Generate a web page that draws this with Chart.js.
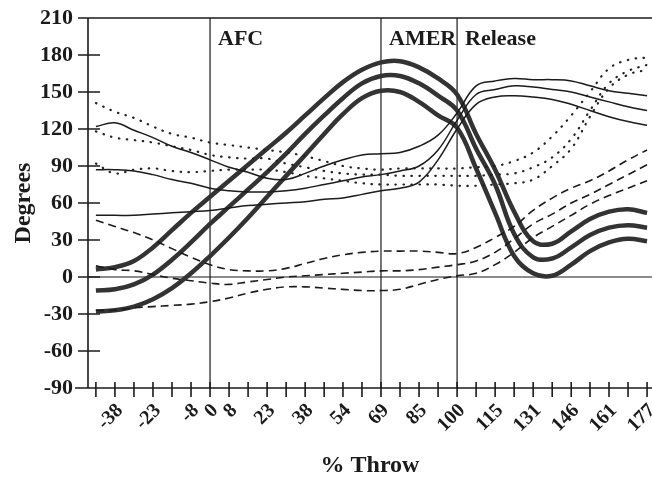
<!DOCTYPE html>
<html>
<head>
<meta charset="utf-8">
<title>% Throw</title>
<script src="https://cdn.jsdelivr.net/npm/chart.js@4.4.1/dist/chart.umd.min.js"></script>
<style>
  html, body { margin: 0; padding: 0; background: #fff; }
  canvas { display: block; }
</style>
</head>
<body>
<canvas id="throw-chart" width="652" height="480"></canvas>
<script>
'use strict';

/*===== Axe x : % du lancer =====*/
const throwPct = [-46.2, -38.5, -30.8, -23.1, -15.4, -7.7, 0, 7.7, 15.4, 23.1, 30.8, 38.5, 46.2, 53.8, 61.5,
                  69.2, 76.9, 84.6, 92.3, 100, 107.7, 115.4, 123.1, 130.8, 138.5, 146.2, 153.8, 161.5, 169.2, 176.9];
const xTickLabels = ['', '-38', '', '-23', '', '-8', '0', '8', '', '23', '', '38', '', '54', '',
                     '69', '', '85', '', '100', '', '115', '', '131', '', '146', '', '161', '', '177'];
const yTickValues = [-90, -60, -30, 0, 30, 60, 90, 120, 150, 180, 210];

/*===== Evénements =====*/
const eventNames = ['AFC', 'AMER', 'Release'];
const eventPct = [0, 69.2, 100];

/*===== Courbes épaisses =====*/
const thick1 = [6, 8, 13, 24, 38, 52, 65, 78, 91, 104, 117, 131, 145, 158, 168, 174, 175, 170, 161, 148, 116, 87, 53, 29, 27, 37, 47, 53, 55, 52];
const thick2 = [-11, -10, -6, 2, 14, 28, 43, 57, 71, 85, 100, 116, 131, 145, 157, 163, 163, 157, 147, 135, 104, 75, 35, 16, 15, 24, 34, 40, 42, 40];
const thick3 = [-28, -27, -24, -18, -9, 3, 17, 32, 48, 65, 82, 99, 116, 132, 145, 151, 150, 142, 131, 121, 88, 52, 17, 3, 1, 10, 21, 28, 31, 29];

/*===== Courbes fines =====*/
const thin1 = [122, 125, 119, 113, 106, 101, 95, 89, 85, 80, 79, 84, 90, 95, 99, 100, 101, 106, 115, 133, 155, 159, 161, 160, 160, 159, 155, 151, 149, 147];
const thin2 = [87, 87, 86, 83, 79, 76, 72, 70, 69, 69, 70, 72, 75, 78, 81, 83, 86, 90, 103, 127, 148, 152, 155, 154, 152, 150, 146, 142, 138, 135];
const thin3 = [50, 50, 50, 51, 52, 53, 54, 56, 58, 59, 60, 61, 63, 64, 67, 70, 72, 77, 95, 120, 140, 146, 147, 146, 144, 140, 135, 130, 126, 123];

/*===== Courbes pointillées =====*/
const dot1 = [141, 134, 129, 122, 116, 113, 109, 107, 105, 103, 101, 98, 94, 90, 88, 87, 88, 88, 88, 88, 89, 90, 94, 101, 114, 131, 150, 169, 176, 178];
const dot2 = [118, 113, 111, 109, 106, 103, 99, 97, 96, 96, 92, 89, 86, 84, 83, 83, 82, 82, 82, 82, 82, 83, 84, 89, 97, 112, 135, 157, 167, 172];
const dot3 = [92, 84, 87, 88, 86, 85, 86, 87, 87, 87, 85, 82, 80, 78, 76, 75, 75, 75, 75, 74, 74, 75, 76, 79, 90, 104, 130, 153, 164, 168];

/*===== Courbes en tirets =====*/
const dashA = [46, 41, 36, 30, 23, 16, 10, 6, 5, 5, 7, 11, 15, 18, 20, 21, 21, 21, 20, 19, 24, 32, 41, 54, 64, 72, 78, 86, 95, 103];
const dashB = [9, 6, 5, 2, -1, -3, -5, -6, -4, -2, 0, 1, 2, 3, 4, 5, 5, 6, 8, 10, 13, 20, 31, 43, 51, 60, 67, 75, 83, 91];
const dashC = [-27, -27, -25, -24, -23, -22, -20, -17, -13, -10, -8, -8, -9, -10, -11, -11, -10, -6, -2, 1, 3, 10, 20, 32, 41, 50, 59, 66, 72, 78];

const ink = '#1b1b1b';
const serif = '"Liberation Serif", "Times New Roman", serif';

function toPoints(values) {
  return values.map((v, i) => ({ x: throwPct[i], y: v }));
}

function lineSet(values, style) {
  return Object.assign({
    data: toPoints(values),
    borderColor: ink,
    borderWidth: 1.5,
    pointRadius: 0,
    fill: false,
    tension: 0.4
  }, style);
}

const dotted = { borderWidth: 2.2, borderDash: [0.5, 7.5], borderCapStyle: 'round', borderColor: '#222' };
const dashed = { borderWidth: 1.6, borderDash: [8, 5] };
const heavy = { borderWidth: 4.5, borderColor: '#333' };

/*===== Cadre, repères et étiquettes =====*/
const framePlugin = {
  id: 'frame',
  beforeDatasetsDraw(chart) {
    const { ctx, chartArea: a, scales: { x, y } } = chart;
    const yTop = y.getPixelForValue(210);
    const yBot = y.getPixelForValue(-90);
    const y0 = y.getPixelForValue(0);
    ctx.save();
    ctx.strokeStyle = ink;
    ctx.lineWidth = 1.6;
    ctx.beginPath();
    ctx.moveTo(a.left, yTop); ctx.lineTo(a.left, yBot);
    ctx.moveTo(a.left - 10, yTop); ctx.lineTo(a.right, yTop);
    ctx.moveTo(a.left - 13, yBot); ctx.lineTo(a.right, yBot);
    yTickValues.slice(1, -1).forEach(v => {
      const py = y.getPixelForValue(v);
      ctx.moveTo(a.left - 10, py); ctx.lineTo(a.left + 12, py);
    });
    throwPct.forEach(v => {
      const px = x.getPixelForValue(v);
      ctx.moveTo(px, yBot - 6); ctx.lineTo(px, yBot + 9);
    });
    ctx.stroke();

    ctx.lineWidth = 1.2;
    ctx.beginPath();
    ctx.moveTo(a.left, y0); ctx.lineTo(a.right, y0);
    eventPct.forEach(v => {
      const px = x.getPixelForValue(v);
      ctx.moveTo(px, yTop); ctx.lineTo(px, yBot);
    });
    ctx.stroke();

    ctx.fillStyle = ink;
    ctx.font = 'bold 22px ' + serif;
    ctx.textBaseline = 'alphabetic';
    ctx.textAlign = 'left';
    eventNames.forEach((name, i) => {
      ctx.fillText(name, x.getPixelForValue(eventPct[i]) + 8, yTop + 27);
    });
    ctx.restore();
  }
};

new Chart(document.getElementById('throw-chart'), {
  type: 'line',
  data: {
    datasets: [
      lineSet(dot1, dotted), lineSet(dot2, dotted), lineSet(dot3, dotted),
      lineSet(dashA, dashed), lineSet(dashB, dashed), lineSet(dashC, dashed),
      lineSet(thin1, {}), lineSet(thin2, {}), lineSet(thin3, {}),
      lineSet(thick1, heavy), lineSet(thick2, heavy), lineSet(thick3, heavy)
    ]
  },
  options: {
    responsive: false,
    animation: false,
    layout: { padding: { top: 18, right: 0, left: 0, bottom: 0 } },
    plugins: { legend: { display: false }, tooltip: { enabled: false } },
    scales: {
      x: {
        type: 'linear',
        min: -49.4,
        max: 178.9,
        grid: { display: false, drawTicks: false },
        border: { display: false },
        afterBuildTicks: scale => { scale.ticks = throwPct.map(v => ({ value: v })); },
        afterFit: scale => { scale.height = 92; scale.paddingLeft = 0; scale.paddingRight = 0; },
        ticks: {
          autoSkip: false,
          minRotation: 45,
          maxRotation: 45,
          padding: 11,
          labelOffset: 5,
          color: ink,
          font: { family: serif, size: 20, weight: 'bold' },
          callback: (value, index) => xTickLabels[index]
        },
        title: {
          display: true,
          text: '% Throw',
          color: ink,
          font: { family: serif, size: 24, weight: 'bold' },
          padding: { top: 0, bottom: 0 }
        }
      },
      y: {
        min: -90,
        max: 210,
        grid: { display: false, drawTicks: false },
        border: { display: false },
        afterBuildTicks: scale => { scale.ticks = yTickValues.map(v => ({ value: v })); },
        afterFit: scale => { scale.width = 88; scale.paddingTop = 0; scale.paddingBottom = 0; },
        ticks: {
          padding: 15,
          color: ink,
          font: { family: serif, size: 22, weight: 'bold' }
        },
        title: {
          display: true,
          text: 'Degrees',
          color: ink,
          font: { family: serif, size: 24, weight: 'bold' },
          padding: { top: 9, bottom: 0 }
        }
      }
    }
  },
  plugins: [framePlugin]
});
</script>
</body>
</html>
